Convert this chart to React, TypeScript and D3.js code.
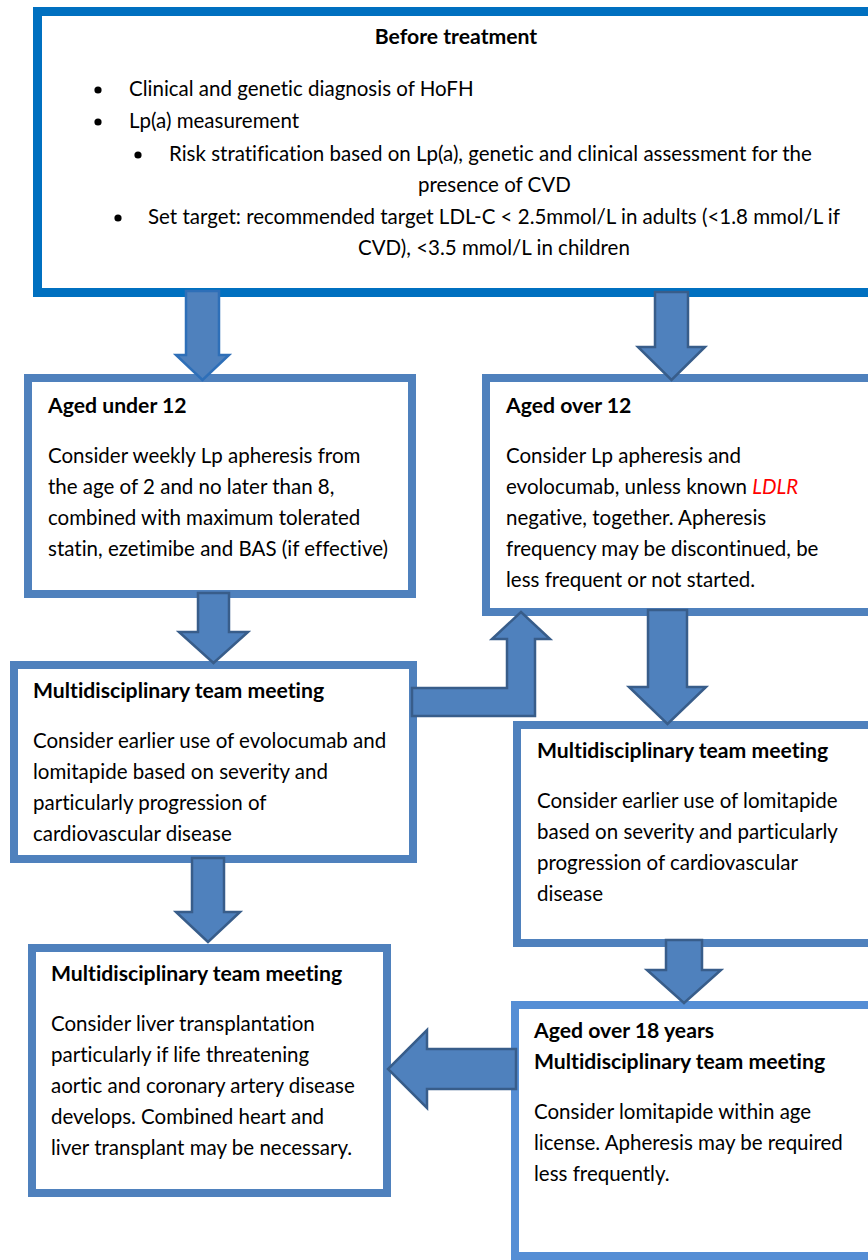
import React from "react";
import * as d3 from "d3";

// ---- Content (text) ----
const topTitle = "Before treatment";
const topLines = [
  { bullet: true, text: "Clinical and genetic diagnosis of HoFH" },
  { bullet: true, text: "Lp(a) measurement" },
  { bullet: true, text: "Risk stratification based on Lp(a), genetic and clinical assessment for the" },
  { bullet: false, text: "presence of CVD" },
  { bullet: true, text: "Set target: recommended target LDL-C < 2.5mmol/L in adults (<1.8 mmol/L if" },
  { bullet: false, text: "CVD), <3.5 mmol/L in children" },
];
const boxTitles = [
  ["Aged under 12"],
  ["Aged over 12"],
  ["Multidisciplinary team meeting"],
  ["Multidisciplinary team meeting"],
  ["Multidisciplinary team meeting"],
  ["Aged over 18 years", "Multidisciplinary team meeting"],
];
const boxBodies = [
  ["Consider weekly Lp apheresis from", "the age of 2 and no later than 8,", "combined with maximum tolerated", "statin, ezetimibe and BAS (if effective)"],
  ["Consider Lp apheresis and", "evolocumab, unless known *LDLR*", "negative, together. Apheresis", "frequency may be discontinued, be", "less frequent or not started."],
  ["Consider earlier use of evolocumab and", "lomitapide based on severity and", "particularly progression of", "cardiovascular disease"],
  ["Consider earlier use of lomitapide", "based on severity and particularly", "progression of cardiovascular", "disease"],
  ["Consider liver transplantation", "particularly if life threatening", "aortic and coronary artery disease", "develops. Combined heart and", "liver transplant may be necessary."],
  ["Consider lomitapide within age", "license. Apheresis may be required", "less frequently."],
];

// ---- Layout (outer bounds) ----
const boxRects = [
  { x0: 24, x1: 416, y0: 374, y1: 598, color: "#4F81BD" },
  { x0: 482, x1: 900, y0: 374, y1: 616, color: "#4F81BD" },
  { x0: 10, x1: 417, y0: 661, y1: 863, color: "#4F81BD" },
  { x0: 513, x1: 900, y0: 721, y1: 947, color: "#4F81BD" },
  { x0: 28, x1: 391, y0: 944, y1: 1197, color: "#4F81BD" },
  { x0: 511, x1: 900, y0: 1001, y1: 1260, color: "#558ED5" },
];
const boxTextX = [48, 506, 33, 537, 51, 534];
const boxTitleY = [413, 413, 698, 758, 981, 1038];

// Down arrows: shaft x0,x1, head x0,x1, top, head base, tip
const downArrows = [
  { s0: 186, s1: 219, h0: 176, h1: 229, top: 291, base: 355, tip: 380, stroke: "#2E6FB8" },
  { s0: 655, s1: 688, h0: 638, h1: 705, top: 292, base: 347, tip: 380, stroke: "#385D8A" },
  { s0: 198, s1: 229, h0: 179, h1: 248, top: 593, base: 632, tip: 663, stroke: "#385D8A" },
  { s0: 648, s1: 687, h0: 629, h1: 706, top: 610, base: 687, tip: 724, stroke: "#385D8A" },
  { s0: 192, s1: 224, h0: 176, h1: 240, top: 858, base: 912, tip: 942, stroke: "#385D8A" },
  { s0: 666, s1: 702, h0: 647, h1: 721, top: 940, base: 970, tip: 1003, stroke: "#385D8A" },
];

const FONT = "Lato, 'Open Sans', sans-serif";
const FS = 20.5;
const FSB = 21.2;
const LH = 31;

function renderLine(str: string, key: string | number, x: number, y: number, bold = false) {
  const parts = str.split("*");
  return (
    <text
      key={key}
      x={x}
      y={y}
      fontFamily={FONT}
      fontSize={bold ? FSB : FS}
      fontWeight={bold ? 700 : 400}
      fill="#000"
      style={{ fontVariantLigatures: "none", fontFeatureSettings: "'liga' 0, 'clig' 0" }}
    >
      {parts.map((p, i) =>
        i % 2 === 1 ? (
          <tspan key={i} fill="#FF0000" fontStyle="italic">{p}</tspan>
        ) : (
          <tspan key={i}>{p}</tspan>
        )
      )}
    </text>
  );
}

export default function App() {
  const line = d3.line<[number, number]>().x((d) => d[0]).y((d) => d[1]).curve(d3.curveLinearClosed);

  const downPath = (a: typeof downArrows[number]) => {
    const cx = (a.h0 + a.h1) / 2;
    return line([
      [a.s0, a.top], [a.s1, a.top], [a.s1, a.base], [a.h1, a.base], [cx, a.tip],
      [a.h0, a.base], [a.s0, a.base],
    ]) as string;
  };

  const elbow = line([
    [412, 688], [507, 688], [507, 639], [492, 639], [521, 612], [550, 639], [535, 639], [535, 716], [412, 716],
  ]) as string;

  const leftArrow = line([
    [516, 1049], [427, 1049], [427, 1030], [388, 1069], [427, 1108], [427, 1089], [516, 1089],
  ]) as string;

  const topXs = [129, 129, 169, 418, 148, 358];
  const topBx = [98, 98, 138, 0, 118, 0];
  const topYs = [96, 128, 161, 192, 224, 255];

  return (
    <svg width={868} height={1260} style={{ position: "absolute", left: 0, top: 0, background: "#fff" }}>
      <rect x={0} y={0} width={868} height={1260} fill="#fff" />
      {/* Top box */}
      <rect x={37.5} y={11.5} width={900} height={281} fill="#fff" stroke="#0070C0" strokeWidth={9} />
      <text x={456} y={44} textAnchor="middle" fontFamily={FONT} fontSize={FSB} fontWeight={700}>{topTitle}</text>
      {topLines.map((l, i) => (
        <g key={i}>
          {l.bullet && <circle cx={topBx[i]} cy={topYs[i] - 6} r={3.6} fill="#000" />}
          {renderLine(l.text, "t" + i, topXs[i], topYs[i])}
        </g>
      ))}

      {/* Boxes */}
      {boxRects.map((b, i) => (
        <g key={i}>
          <rect x={b.x0 + 4} y={b.y0 + 4} width={b.x1 - b.x0 - 8} height={b.y1 - b.y0 - 8} fill="#fff" stroke={b.color} strokeWidth={8} />
          {boxTitles[i].map((t, j) => renderLine(t, "h" + j, boxTextX[i], boxTitleY[i] + j * LH, true))}
          {boxBodies[i].map((t, j) =>
            renderLine(t, "b" + j, boxTextX[i], boxTitleY[i] + (boxTitles[i].length - 1) * LH + 50 + j * LH)
          )}
        </g>
      ))}

      {/* Arrows */}
      {downArrows.map((a, i) => (
        <path key={i} d={downPath(a)} fill="#4F81BD" stroke={a.stroke} strokeWidth={2.5} strokeLinejoin="miter" />
      ))}
      <path d={elbow} fill="#4F81BD" stroke="#385D8A" strokeWidth={2.5} />
      <path d={leftArrow} fill="#4F81BD" stroke="#385D8A" strokeWidth={2.5} />
    </svg>
  );
}
